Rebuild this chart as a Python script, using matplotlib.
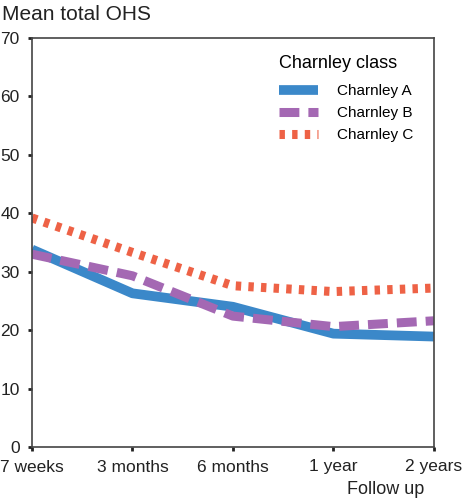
import matplotlib
matplotlib.use("Agg")
import matplotlib.pyplot as plt

plt.rcParams['font.family'] = ['Liberation Sans', 'DejaVu Sans']

visitas = ['7 weeks', '3 months', '6 months', '1 year', '2 years']
charnley_a = [33.8, 26.3, 24.0, 19.4, 18.9]
charnley_b = [33.0, 29.3, 22.4, 20.6, 21.6]
charnley_c = [39.2, 33.3, 27.6, 26.6, 27.2]

fig = plt.figure(figsize=(4.64, 5.0), dpi=100)
ax = fig.add_axes([0.069, 0.106, 0.866, 0.818])

x = range(len(visitas))
ax.plot(x, charnley_a, color='#3b88c9', lw=7, solid_capstyle='butt', label='Charnley A')
ax.plot(x, charnley_b, color='#a468b3', lw=6.5, dashes=(2.2, 1.0), dash_capstyle='butt', label='Charnley B')
ax.plot(x, charnley_c, color='#ee6246', lw=6.5, dashes=(0.6, 0.8), dash_capstyle='butt', label='Charnley C')

ax.set_xlim(0, 4)
ax.set_ylim(0, 70)
ax.set_xticks(list(x))
ax.set_xticklabels(visitas)
ax.set_yticks(range(0, 71, 10))
ax.tick_params(direction='out', length=3, width=2, labelsize=12.5, colors='#222222', pad=6)
for s in ax.spines.values():
    s.set_color('#444444')
    s.set_linewidth(1.2)

fig.text(0.005, 0.972, 'Mean total OHS', fontsize=15, va='center', ha='left', color='#222222')
fig.text(0.915, 0.004, 'Follow up', fontsize=13, va='bottom', ha='right', color='#222222')

leg = ax.legend(title='Charnley class', loc='upper right', frameon=False,
                fontsize=11, title_fontsize=13, handlelength=2.6, handletextpad=1.2,
                labelspacing=0.52, borderaxespad=0.3, bbox_to_anchor=(0.975, 0.985))
leg._legend_box.align = 'left'
leg._legend_box.sep = 9

fig.savefig('out.png', dpi=100)
